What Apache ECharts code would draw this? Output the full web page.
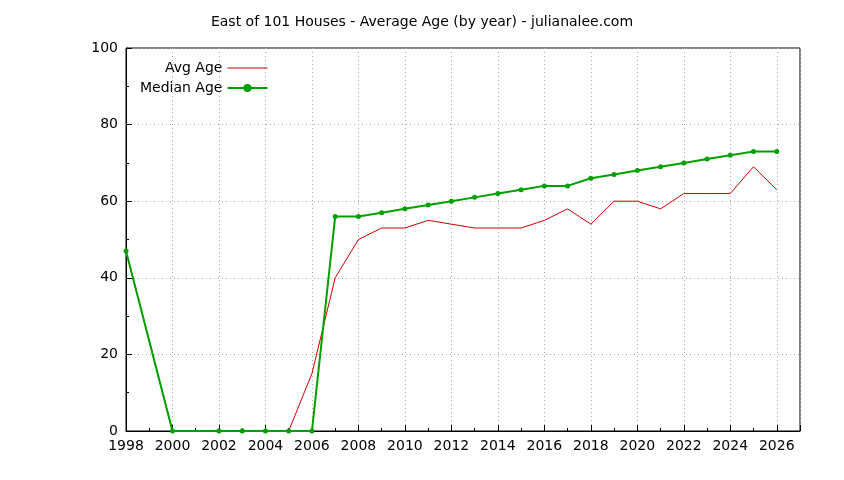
<!DOCTYPE html>
<html><head><meta charset="utf-8">
<script src="https://cdn.jsdelivr.net/npm/echarts@6/dist/echarts.min.js"></script>
<style>html,body{margin:0;background:#fff}#c{width:844px;height:480px}</style>
</head><body><div id="c"></div>
<script>
const years = [1998,2000,2002,2003,2004,2005,2006,2007,2008,2009,2010,2011,2012,2013,2014,2015,2016,2017,2018,2019,2020,2021,2022,2023,2024,2025,2026];
const avgAge = [47,0,0,0,0,0,15,40,50,53,53,55,54,53,53,53,55,58,54,60,60,58,62,62,62,69,63];
const medianAge = [47,0,0,0,0,0,0,56,56,57,58,59,60,61,62,63,64,64,66,67,68,69,70,71,72,73,73];
const chart = echarts.init(document.getElementById('c'));
const font = 'DejaVu Sans';
chart.setOption({
  animation:false,
  textStyle:{fontFamily:font},
  title:{text:'East of 101 Houses - Average Age (by year) - julianalee.com',left:'center',top:10,
    textStyle:{fontFamily:font,fontSize:14,fontWeight:'normal',color:'#000'}},
  legend:{orient:'vertical',left:135,top:56,align:'right',itemWidth:40,itemHeight:10,itemGap:6,
    textStyle:{fontFamily:font,fontSize:14,color:'#000'},
    data:[{name:'Avg Age',icon:'path://M0,5L40,5L40,6L0,6Z'},{name:'Median Age'}]},
  grid:{left:126,right:44,top:48,bottom:49,show:true,borderColor:'#000',borderWidth:1,backgroundColor:'transparent'},
  xAxis:{type:'value',min:1998,max:2027,interval:2,
    axisLine:{show:true,lineStyle:{color:'#000'}},
    axisTick:{inside:true,length:6,lineStyle:{color:'#000'}},
    minorTick:{show:true,splitNumber:2,length:3,lineStyle:{color:'#000'}},
    axisLabel:{fontFamily:font,fontSize:14,color:'#000',formatter:v=>v>2026?'':String(v)},
    splitLine:{show:true,lineStyle:{color:'#aaa',type:[1,3]}}},
  yAxis:{type:'value',min:0,max:100,interval:20,
    axisLine:{show:true,lineStyle:{color:'#000'}},
    axisTick:{inside:true,length:6,lineStyle:{color:'#000'}},
    minorTick:{show:true,splitNumber:2,length:3,lineStyle:{color:'#000'}},
    axisLabel:{fontFamily:font,fontSize:14,color:'#000'},
    splitLine:{show:true,lineStyle:{color:'#aaa',type:[1,3]}}},
  series:[
    {name:'Avg Age',type:'line',data:years.map((y,i)=>[y,avgAge[i]]),showSymbol:false,symbol:'none',
      lineStyle:{color:'#cc0000',width:1},itemStyle:{color:'#cc0000'}},
    {name:'Median Age',type:'line',data:years.map((y,i)=>[y,medianAge[i]]),symbol:'circle',symbolSize:5,
      lineStyle:{color:'#00a000',width:2},itemStyle:{color:'#00a000'}}
  ]
});
</script></body></html>
